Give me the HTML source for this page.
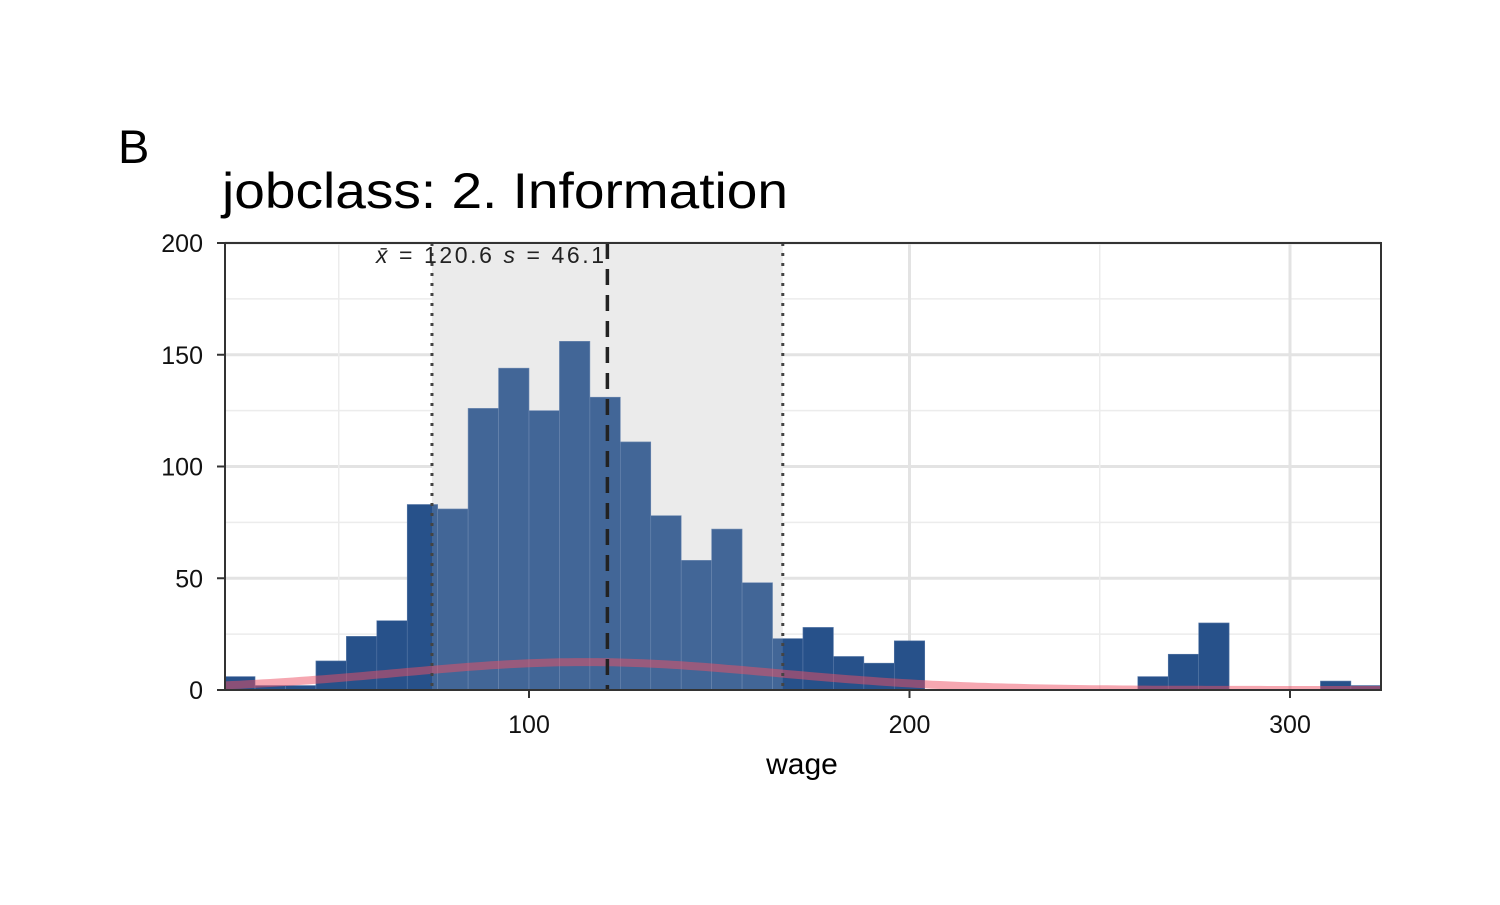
<!DOCTYPE html>
<html><head><meta charset="utf-8"><style>
body{margin:0;background:#fff;font-family:"Liberation Sans",Arial,sans-serif}
</style></head><body>
<svg width="1500" height="900" font-family="Liberation Sans, Arial, sans-serif">
<text x="118" y="163" font-size="47" fill="#000">B</text>
<text x="222" y="208" font-size="50" textLength="566" lengthAdjust="spacingAndGlyphs" fill="#000">jobclass: 2. Information</text>
<defs><clipPath id="clip"><rect x="225" y="243" width="1156" height="447"/></clipPath></defs>
<g id="grid"></g>
<rect id="band"/>
<g id="bars"></g>
<rect id="bandover"/>
<g clip-path="url(#clip)"><path id="curve" fill="none" stroke="rgba(238,80,100,0.5)" stroke-width="8"/></g>
<g id="lines"></g>
<rect x="225" y="243" width="1156" height="447" fill="none" stroke="#333" stroke-width="2"/>
<g id="axes"></g>
<text x="802" y="774" font-size="30" text-anchor="middle">wage</text>
<text x="376" y="263" font-size="23" fill="#222" textLength="228" lengthAdjust="spacing"><tspan font-style="italic">x̄</tspan> = 120.6  <tspan font-style="italic">s</tspan> = 46.1</text>
</svg>
<script>
const binStart=[20,28,36,44,52,60,68,76,84,92,100,108,116,124,132,140,148,156,164,172,180,188,196,260,268,276,308,316];
const counts=[6,2,2,13,24,31,83,81,126,144,125,156,131,111,78,58,72,48,23,28,15,12,22,6,16,30,4,2];
const binWidth=8;
const meanVal=120.6, sdVal=46.1;
const curvePeak=12.5, curveMean=115, curveSd=50;
const xTicks=[100,200,300];
const yTicks=[0,50,100,150,200];
const NS="http://www.w3.org/2000/svg";
const X=v=>529+(v-100)*3.805;
const Y=v=>690-v*2.235;
function mk(tag,attrs,parent){const e=document.createElementNS(NS,tag);for(const k in attrs)e.setAttribute(k,attrs[k]);parent.appendChild(e);return e;}
const grid=document.getElementById('grid');
for(let v=25;v<=200;v+=25){const major=v%50===0;const e=mk('line',{x1:225,x2:1381,y1:Y(v),y2:Y(v),stroke:major?'#e3e3e3':'#ececec','stroke-width':major?3:1.5},grid);

}
for(let v=50;v<=300;v+=50){const major=v%100===0;const e=mk('line',{x1:X(v),x2:X(v),y1:243,y2:690,stroke:major?'#e3e3e3':'#ececec','stroke-width':major?3:1.5},grid);

}
const b=document.getElementById('band');
[['x',X(meanVal-sdVal)],['y',243],['width',X(meanVal+sdVal)-X(meanVal-sdVal)],['height',447],['fill','#ececec']].forEach(a=>b.setAttribute(a[0],a[1]));
const bo=document.getElementById('bandover');
[['x',X(meanVal-sdVal)],['y',243],['width',X(meanVal+sdVal)-X(meanVal-sdVal)],['height',447],['fill','rgba(236,236,236,0.14)']].forEach(a=>bo.setAttribute(a[0],a[1]));
const bars=document.getElementById('bars');
binStart.forEach((s,i)=>{const e=mk('rect',{x:X(s),y:Y(counts[i]),width:X(s+binWidth)-X(s),height:Y(0)-Y(counts[i]),fill:'#27518a',stroke:'#5a7aa8','stroke-width':0.6},bars);

});
let d='';for(let v=20;v<=324;v+=2){const y=curvePeak*Math.exp(-0.5*((v-curveMean)/curveSd)**2);d+=(d?'L':'M')+X(v).toFixed(1)+','+Y(y).toFixed(1);}
document.getElementById('curve').setAttribute('d',d);
const lines=document.getElementById('lines');
[[meanVal-sdVal,'3,7',3],[meanVal+sdVal,'3,7',3],[meanVal,'16,10',3.5]].forEach((l,i)=>{const e=mk('line',{x1:X(l[0]),x2:X(l[0]),y1:243,y2:690,stroke:i==2?'#222':'#444','stroke-width':l[2],'stroke-dasharray':l[1]},lines);

});
const axes=document.getElementById('axes');
xTicks.forEach(v=>{const t=mk('line',{x1:X(v),x2:X(v),y1:690,y2:698,stroke:'#333','stroke-width':2},axes);


const e=mk('text',{x:X(v),y:733,'font-size':25,'text-anchor':'middle',fill:'#111'},axes);e.textContent=v;

});
yTicks.forEach(v=>{const t=mk('line',{x1:217,x2:225,y1:Y(v),y2:Y(v),stroke:'#333','stroke-width':2},axes);


const e=mk('text',{x:203,y:Y(v)+9,'font-size':25,'text-anchor':'end',fill:'#111'},axes);e.textContent=v;

});
</script>
</body></html>
